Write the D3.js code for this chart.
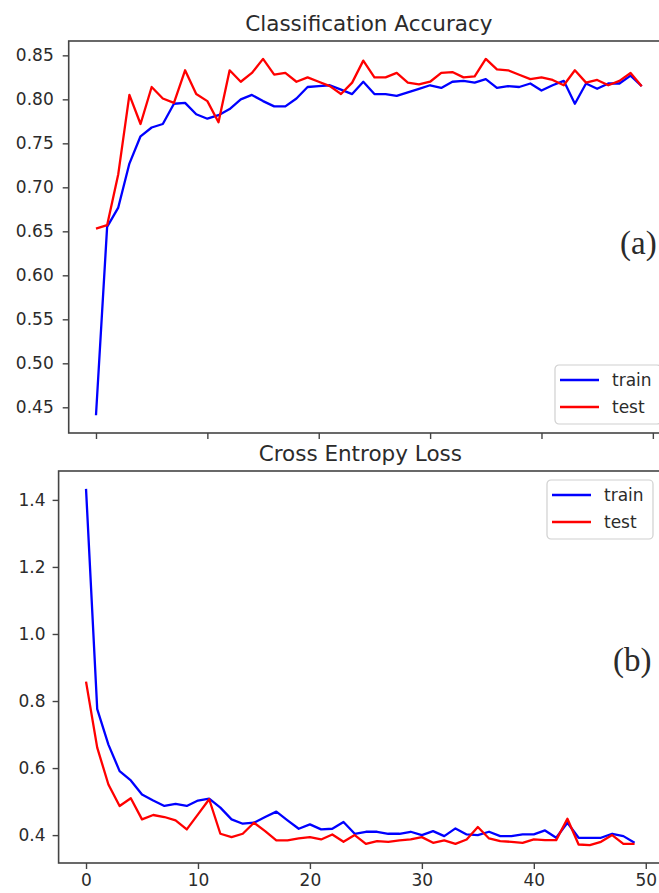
<!DOCTYPE html>
<html>
<head>
<meta charset="utf-8">
<script src="https://d3js.org/d3.v7.min.js"></script>
<style>
  body { margin: 0; background: #fff; }
  svg text { font-family: "DejaVu Sans", sans-serif; fill: #2b2b2b; }
  .axis path, .axis line { stroke: #444; }
</style>
</head>
<body>
<svg width="659" height="893"></svg>
<script>
// epochs 0..49
const epochs = d3.range(50);

const accTrain = [0.441,0.655,0.677,0.727,0.758,0.768,0.772,0.795,0.796,0.783,
  0.778,0.782,0.789,0.800,0.805,0.798,0.792,0.792,0.801,0.814,
  0.815,0.816,0.811,0.806,0.820,0.806,0.806,0.804,0.808,0.812,
  0.816,0.813,0.820,0.821,0.819,0.823,0.813,0.815,0.814,0.818,
  0.810,0.816,0.821,0.795,0.818,0.812,0.818,0.818,0.827,0.815];
const accTest = [0.653,0.657,0.715,0.805,0.772,0.814,0.801,0.796,0.833,0.806,
  0.798,0.774,0.833,0.820,0.830,0.846,0.828,0.830,0.820,0.825,
  0.820,0.815,0.806,0.819,0.844,0.825,0.825,0.830,0.819,0.817,
  0.820,0.830,0.831,0.825,0.826,0.846,0.834,0.833,0.828,0.823,
  0.825,0.822,0.816,0.833,0.819,0.822,0.816,0.821,0.830,0.815];

const lossTrain = [1.433,0.776,0.670,0.591,0.563,0.521,0.503,0.487,0.493,0.487,
  0.503,0.509,0.482,0.447,0.434,0.437,0.454,0.470,0.444,0.419,
  0.432,0.417,0.419,0.439,0.404,0.410,0.410,0.404,0.404,0.410,
  0.400,0.412,0.397,0.420,0.402,0.400,0.410,0.397,0.397,0.402,
  0.402,0.414,0.392,0.437,0.392,0.392,0.392,0.404,0.397,0.377];
const lossTest = [0.858,0.661,0.551,0.487,0.510,0.447,0.460,0.454,0.444,0.417,
  0.462,0.507,0.404,0.394,0.404,0.437,0.412,0.384,0.384,0.390,
  0.394,0.387,0.402,0.380,0.400,0.374,0.382,0.380,0.384,0.387,
  0.394,0.377,0.384,0.374,0.387,0.424,0.390,0.382,0.380,0.377,
  0.387,0.385,0.385,0.449,0.372,0.370,0.380,0.400,0.374,0.374];

const xTicks = [0, 10, 20, 30, 40, 50];
const accTicks = [0.45, 0.50, 0.55, 0.60, 0.65, 0.70, 0.75, 0.80, 0.85];
const lossTicks = [0.4, 0.6, 0.8, 1.0, 1.2, 1.4];
const seriesNames = ["train", "test"];
const colors = ["#0000ff", "#ff0000"];

const svg = d3.select("svg");

function panel(opt) {
  const x = d3.scaleLinear().domain([-2.45, 51.45]).range([opt.left, opt.right]);
  const y = d3.scaleLinear().domain(opt.yDomain).range([opt.bottom, opt.top]);
  const g = svg.append("g");

  // data lines
  const line = d3.line().x((d, i) => x(epochs[i])).y(d => y(d));
  opt.series.forEach((s, k) => {
    g.append("path").datum(s)
      .attr("fill", "none")
      .attr("stroke", colors[k])
      .attr("stroke-width", 2.3)
      .attr("stroke-linejoin", "round")
      .attr("d", line);
  });

  // frame
  g.append("rect")
    .attr("x", opt.left).attr("y", opt.top)
    .attr("width", opt.right - opt.left).attr("height", opt.bottom - opt.top)
    .attr("fill", "none").attr("stroke", "#444").attr("stroke-width", 1.6);

  // axes
  const ya = g.append("g").attr("class", "axis")
    .attr("transform", "translate(" + opt.left + ",0)")
    .call(d3.axisLeft(y).tickValues(opt.yTicks).tickFormat(opt.yFmt).tickSize(6).tickPadding(opt.yPad));
  ya.select(".domain").remove();
  ya.selectAll("line").attr("stroke-width", 1.4);
  ya.selectAll("text").style("font-size", "17px").attr("fill", "#2b2b2b");

  const xa = g.append("g").attr("class", "axis")
    .attr("transform", "translate(0," + opt.bottom + ")")
    .call(d3.axisBottom(x).tickValues(xTicks).tickSize(6).tickPadding(5)
      .tickFormat(opt.xLabels ? d3.format("d") : ""));
  xa.select(".domain").remove();
  xa.selectAll("line").attr("stroke-width", 1.4);
  xa.selectAll("text").style("font-size", "17px").attr("fill", "#2b2b2b");

  // title
  g.append("text")
    .attr("x", (opt.left + opt.right) / 2).attr("y", opt.titleY)
    .attr("text-anchor", "middle")
    .style("font-size", "21.5px")
    .text(opt.title);

  // legend
  const lg = g.append("g").attr("transform", "translate(" + opt.legX + "," + opt.legY + ")");
  lg.append("rect")
    .attr("x", 0).attr("y", 0).attr("width", 106).attr("height", 59)
    .attr("rx", 4).attr("fill", "#fff").attr("fill-opacity", 0.85)
    .attr("stroke", "#d0d0d0").attr("stroke-width", 1.2);
  seriesNames.forEach((n, k) => {
    const yy = 15 + k * 27;
    lg.append("line")
      .attr("x1", 5).attr("x2", 44).attr("y1", yy).attr("y2", yy)
      .attr("stroke", colors[k]).attr("stroke-width", 2.3);
    lg.append("text")
      .attr("x", 57).attr("y", yy + 6)
      .style("font-size", "17px")
      .text(n);
  });

  // panel tag
  g.append("text")
    .attr("x", opt.tagX).attr("y", opt.tagY)
    .style("font-family", "'Liberation Serif', 'Times New Roman', serif")
    .style("font-size", "33px")
    .attr("fill", "#111")
    .text(opt.tag);
}

panel({
  left: 68.7, right: 669, top: 41, bottom: 433,
  yDomain: [0.4208, 0.8663], yTicks: accTicks, yFmt: d3.format(".2f"), yPad: 9,
  series: [accTrain, accTest], xLabels: false,
  title: "Classification Accuracy", titleY: 31,
  legX: 555, legY: 365, tag: "(a)", tagX: 620, tagY: 254
});

panel({
  left: 58.6, right: 662, top: 471, bottom: 863,
  yDomain: [0.3168, 1.4862], yTicks: lossTicks, yFmt: d3.format(".1f"), yPad: 7,
  series: [lossTrain, lossTest], xLabels: true,
  title: "Cross Entropy Loss", titleY: 461,
  legX: 547, legY: 480, tag: "(b)", tagX: 613, tagY: 671
});
</script>
</body>
</html>
